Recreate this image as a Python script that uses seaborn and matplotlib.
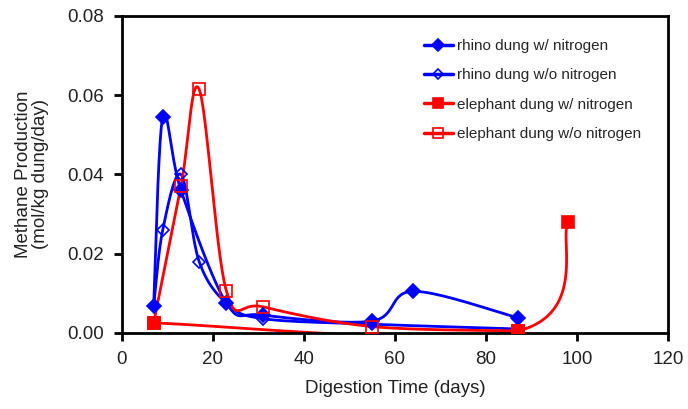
import numpy as np
import pandas as pd
import seaborn as sns
import matplotlib.pyplot as plt
from matplotlib.lines import Line2D

# data
rhino_n_days = [7, 9, 13, 23, 31, 55, 64, 87]
rhino_n = [0.0068, 0.0545, 0.036, 0.0075, 0.0045, 0.003, 0.0105, 0.0038]

rhino_wo_days = [7, 9, 13, 17, 23, 31, 55, 87]
rhino_wo = [0.0068, 0.026, 0.040, 0.018, 0.0075, 0.0036, 0.0022, 0.0010]

eleph_n_days = [7, 87, 98]
eleph_n = [0.0025, 0.0005, 0.028]

eleph_wo_days = [7, 13, 17, 23, 31, 55, 87]
eleph_wo = [0.0025, 0.037, 0.0615, 0.0105, 0.0066, 0.0016, 0.0005]

labels = ["rhino dung w/ nitrogen", "rhino dung w/o nitrogen",
          "elephant dung w/ nitrogen", "elephant dung w/o nitrogen"]


def smooth(x, y, n=40):
    # bezier smoothing like a spreadsheet "smoothed line"
    p = np.column_stack([x, y]).astype(float)
    sx, sy = 120.0, 0.08
    p = p / [sx, sy]
    out = []
    for i in range(len(p) - 1):
        p0 = p[i - 1] if i > 0 else p[i]
        p3 = p[i + 2] if i + 2 < len(p) else p[i + 1]
        c1 = p[i] + (p[i + 1] - p0) / 6
        c2 = p[i + 1] - (p3 - p[i]) / 6
        t = np.linspace(0, 1, n)[:, None]
        seg = ((1 - t) ** 3 * p[i] + 3 * (1 - t) ** 2 * t * c1
               + 3 * (1 - t) * t ** 2 * c2 + t ** 3 * p[i + 1])
        out.append(seg if i == 0 else seg[1:])
    out = np.vstack(out) * [sx, sy]
    return out[:, 0], out[:, 1]


sns.set_style("ticks")
plt.rcParams['font.family'] = ['Liberation Sans', 'DejaVu Sans']

fig = plt.figure(figsize=(6.88, 4.09), dpi=100)
ax = fig.add_axes([0.177, 0.186, 0.794, 0.775])

series = [
    (rhino_n_days, rhino_n, "blue", "D", "blue", 7),
    (rhino_wo_days, rhino_wo, "blue", "D", "none", 6),
    (eleph_n_days, eleph_n, "red", "s", "red", 8),
    (eleph_wo_days, eleph_wo, "red", "s", "none", 8),
]

handles = []
for (d, v, c, m, fc, ms), lab in zip(series, labels):
    sx, sy = smooth(d, v)
    curve = pd.DataFrame({"day": sx, "val": sy})
    sns.lineplot(data=curve, x="day", y="val", sort=False, estimator=None,
                 color=c, lw=2, ax=ax, legend=False)
    ax.plot(d, v, ls="none", marker=m, ms=ms, mfc=fc, mec=c, mew=1.2,
            zorder=3)
    handles.append(Line2D([0], [0], color=c, lw=2.5, marker=m, ms=ms - 1,
                          mfc=fc, mec=c, mew=1.2))

ax.set_xlim(0, 120)
ax.set_ylim(0, 0.08)
ax.set_xticks(np.arange(0, 121, 20))
ax.set_yticks(np.arange(0, 0.081, 0.02))
ax.yaxis.set_major_formatter(plt.FormatStrFormatter("%.2f"))
for s in ax.spines.values():
    s.set_linewidth(2)
    s.set_color("black")
ax.tick_params(width=2, length=6, pad=7, labelsize=13.5, colors="black",
               labelcolor="#222222")
ax.set_xlabel("Digestion Time (days)", fontsize=13.5, color="#222222",
              labelpad=9)
ax.set_ylabel("Methane Production\n(mol/kg dung/day)", fontsize=13.5,
              color="#222222", linespacing=1.0, labelpad=13)

ax.legend(handles, labels, loc="upper right", bbox_to_anchor=(0.975, 0.97),
          frameon=False, fontsize=11, handlelength=1.9, handletextpad=0.25,
          labelspacing=1.0)

fig.savefig("out.png", dpi=100)
